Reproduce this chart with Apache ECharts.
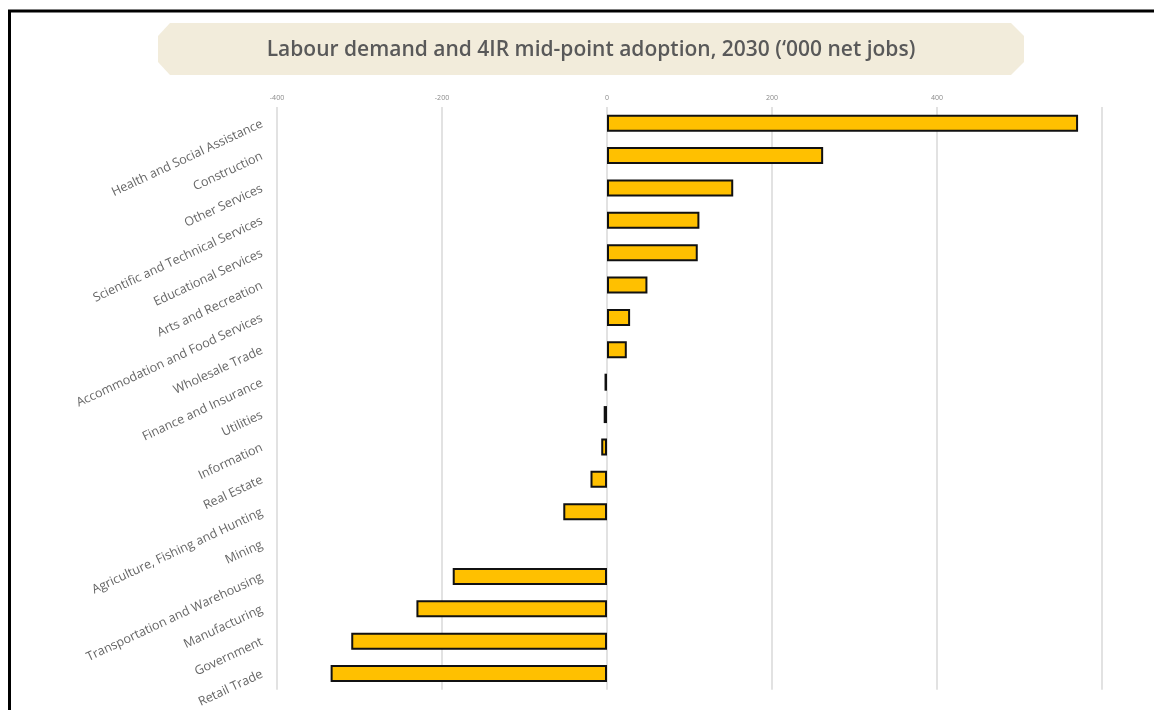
<!DOCTYPE html>
<html>
<head>
<meta charset="utf-8">
<script src="https://cdn.jsdelivr.net/npm/echarts@6/dist/echarts.min.js"></script>
<style>
html,body{margin:0;padding:0;background:#fff;}
#chart{width:1154px;height:710px;}
</style>
</head>
<body>
<div id="chart"></div>
<script>
const titleText = "Labour demand and 4IR mid-point adoption, 2030 (‘000 net jobs)";
const categories = [
  "Health and Social Assistance",
  "Construction",
  "Other Services",
  "Scientific and Technical Services",
  "Educational Services",
  "Arts and Recreation",
  "Accommodation and Food Services",
  "Wholesale Trade",
  "Finance and Insurance",
  "Utilities",
  "Information",
  "Real Estate",
  "Agriculture, Fishing and Hunting",
  "Mining",
  "Transportation and Warehousing",
  "Manufacturing",
  "Government",
  "Retail Trade"
];
const netJobs = [571, 262, 153, 112, 110, 49, 28, 24, -3, -4, -7, -20, -53, null, -187, -231, -310, -335];
const axisMin = -400, axisMax = 600, axisStep = 200;

const chart = echarts.init(document.getElementById('chart'));
chart.setOption({
  backgroundColor: '#ffffff',
  animation: false,
  graphic: [
    { type: 'polygon', silent: true, z: 0,
      shape: { points: [[170,23],[1011,23],[1024,36],[1024,62],[1011,75],[170,75],[158,62],[158,36]] },
      style: { fill: '#F2ECDB' } },
    { type: 'text', x: 591, y: 50, z: 2,
      style: { text: titleText, font: '600 21px "Open Sans", sans-serif', fill: '#595959', align: 'center', verticalAlign: 'middle' } },
    { type: 'line', silent: true, shape: { x1: 8, y1: 11, x2: 1154, y2: 11 }, style: { stroke: '#000', lineWidth: 3 } },
    { type: 'line', silent: true, shape: { x1: 9.5, y1: 10, x2: 9.5, y2: 710 }, style: { stroke: '#000', lineWidth: 3 } }
  ],
  grid: { left: 277, right: 52, top: 107, bottom: 19, containLabel: false },
  xAxis: {
    type: 'value', position: 'top',
    min: axisMin, max: axisMax, interval: axisStep,
    axisLine: { show: false }, axisTick: { show: false },
    axisLabel: { show: true, showMaxLabel: false, fontSize: 7, color: '#8a8a8a', margin: 6, fontFamily: 'Open Sans' },
    splitLine: { show: true, lineStyle: { color: '#d9d9d9', width: 1.5 } }
  },
  yAxis: {
    type: 'category', data: categories, inverse: true,
    axisLine: { show: false }, axisTick: { show: false },
    axisLabel: { rotate: 25, fontSize: 12.5, color: '#666666', margin: 15, fontFamily: 'Open Sans' }
  },
  series: [{
    type: 'bar', data: netJobs, barWidth: 17,
    itemStyle: { color: '#FFC000', borderColor: '#111', borderWidth: 2 }
  }]
});
</script>
</body>
</html>
